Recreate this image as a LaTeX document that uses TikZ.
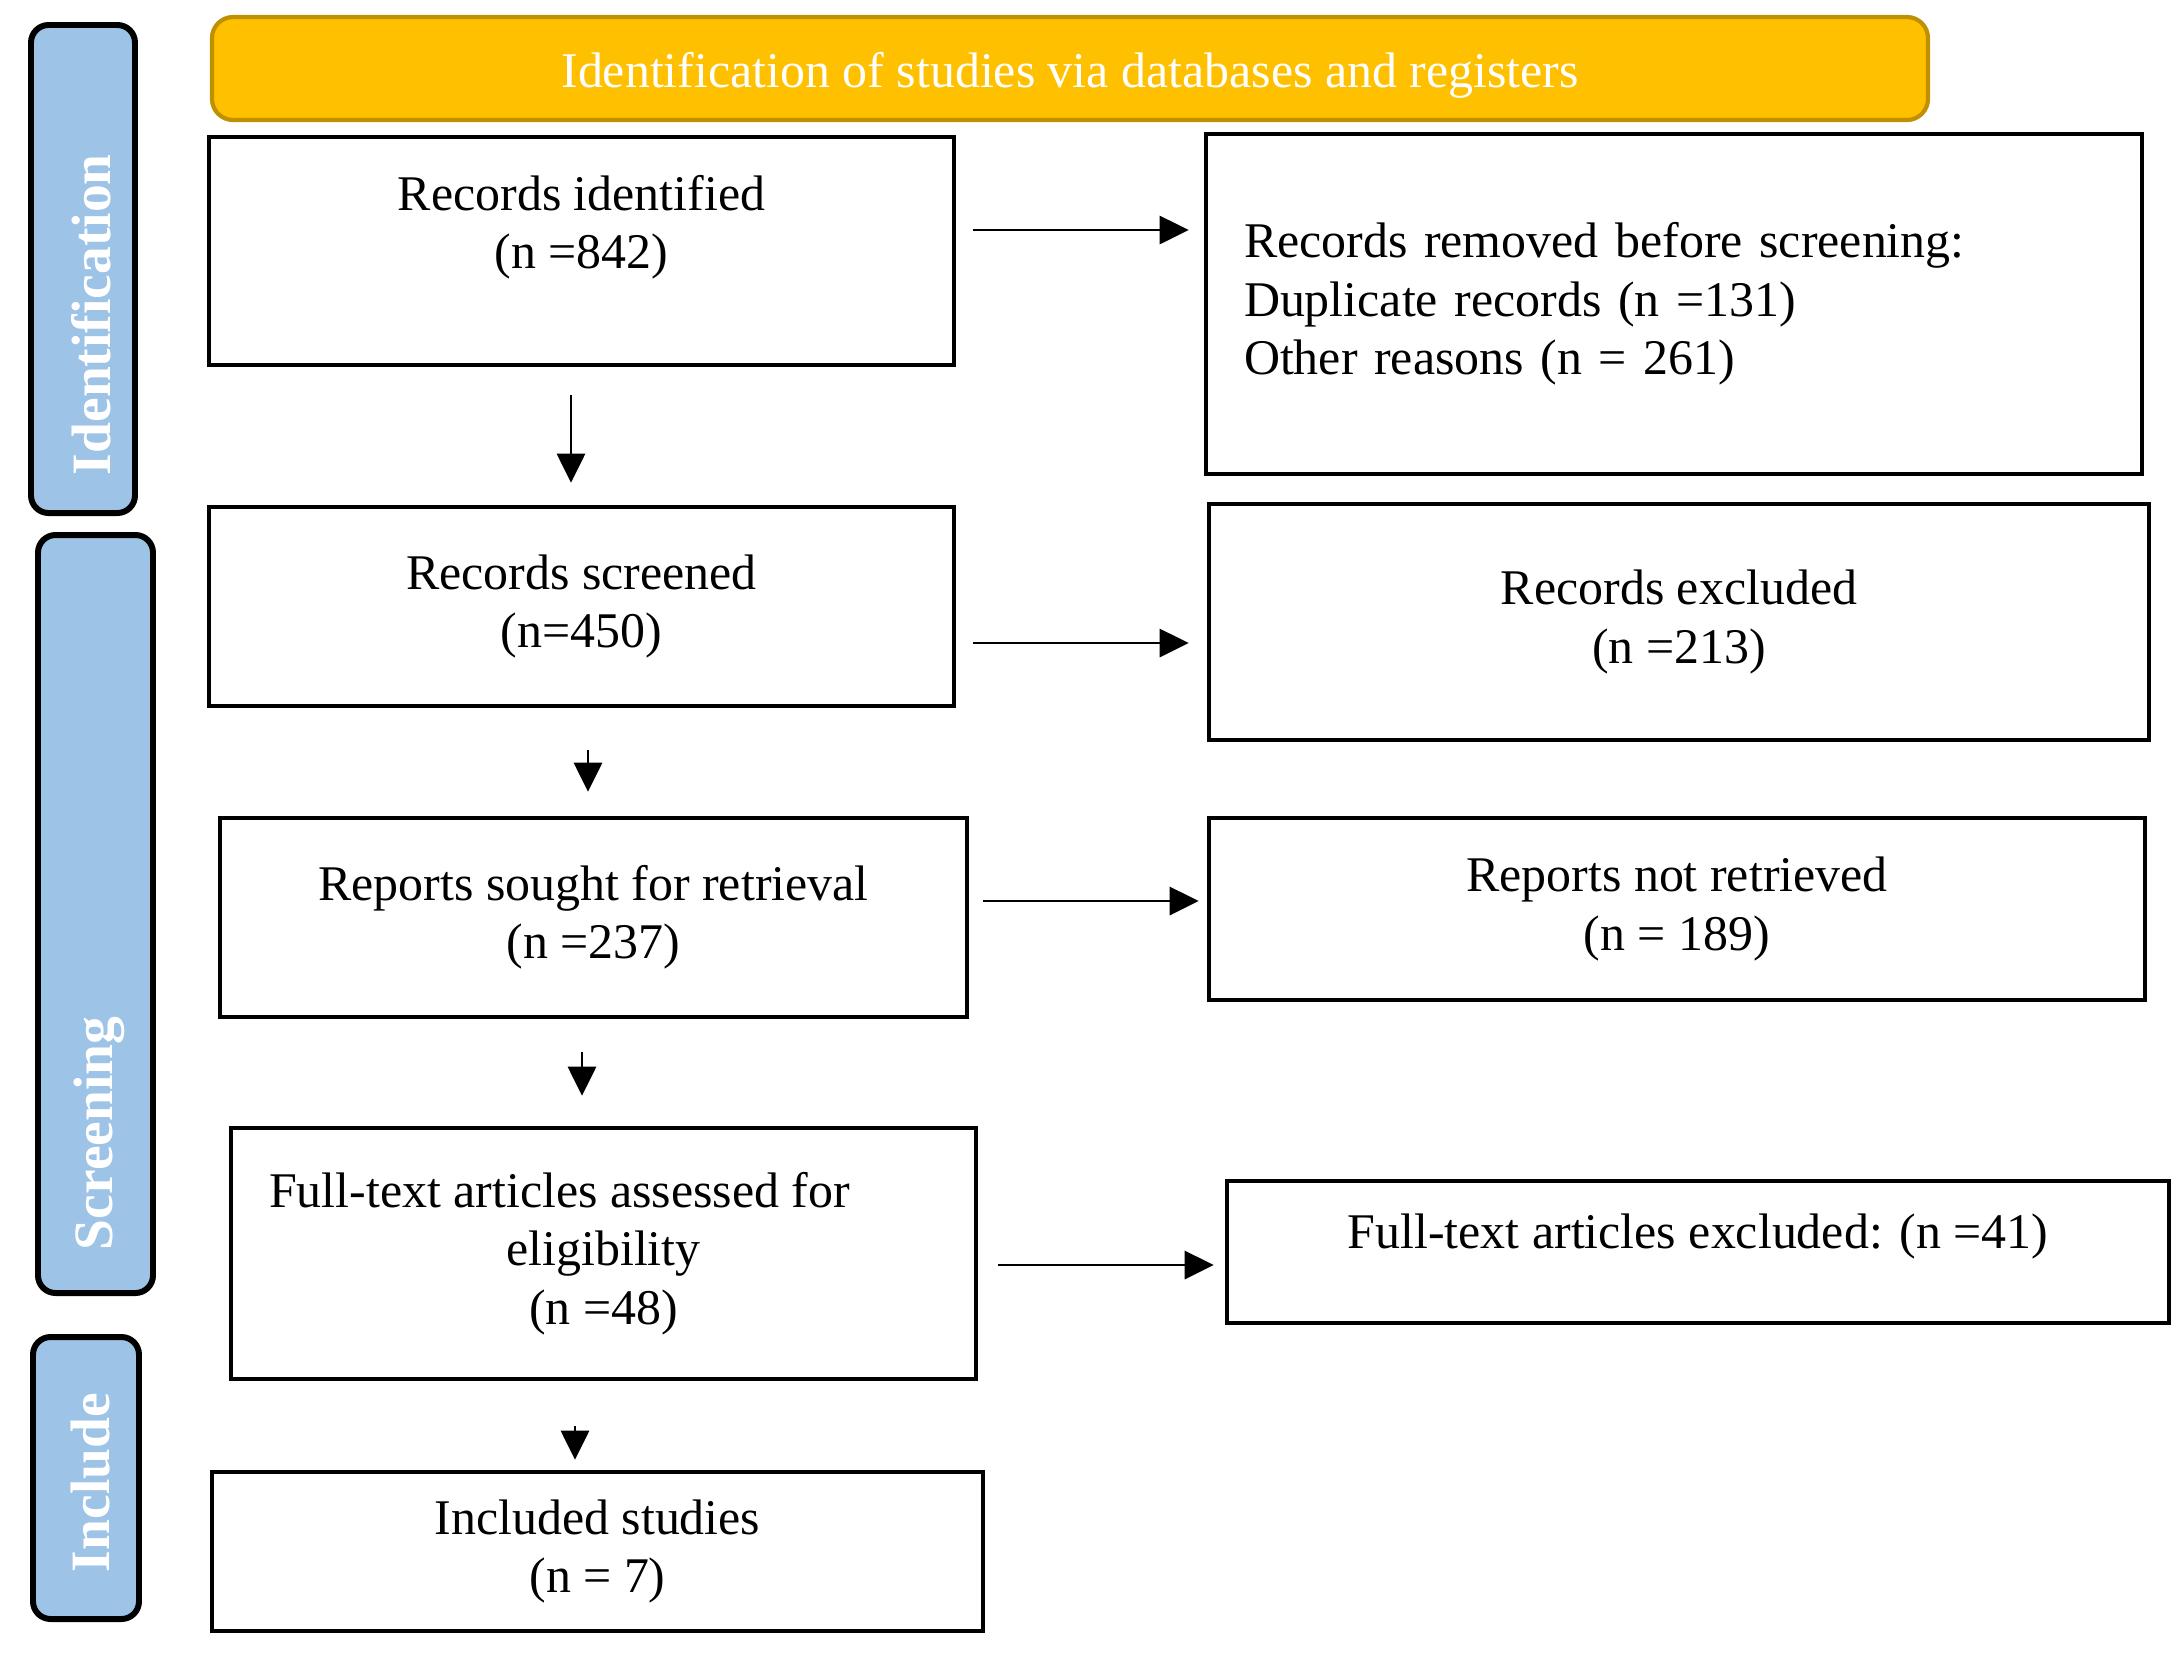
\documentclass[tikz,border=0pt]{standalone}
\usepackage{fontspec}
\setmainfont{Liberation Serif}
\usetikzlibrary{arrows.meta, positioning}
\definecolor{cyellow}{HTML}{FFC000}
\definecolor{cgold}{HTML}{BF9000}
\definecolor{cblue}{HTML}{9DC3E6}
\tikzset{
  every picture/.style={font=\fontsize{14.2}{16.6}\selectfont, line width=1.1pt},
  box/.style={draw=black, line width=1.3pt, align=center},
  banner/.style={draw=cgold, fill=cyellow, rounded corners=6pt, line width=1.2pt, text=white},
  tab/.style={draw=black, fill=cblue, rounded corners=5pt, line width=1.7pt},
  tablabel/.style={rotate=90, anchor=west, inner sep=0pt, text=white, font=\fontsize{15.8}{19}\selectfont\bfseries},
  arrow/.style={-{Triangle[length=2.9mm, width=2.8mm]}, draw=black, line width=0.8pt},
}

\begin{document}
\begin{tikzpicture}
  \useasboundingbox (0,0) rectangle (21.84,-16.53);
  \node[banner, minimum width=17.16cm, minimum height=1.03cm, text height=14pt] (head) at (10.70,-0.685) {Identification of studies via databases and registers};
  % side tabs
  \node[tab, minimum width=1.04cm, minimum height=4.88cm] (tid) at (0.83,-2.69) {};
  \node[tab, minimum width=1.15cm, minimum height=7.58cm] (tscr) at (0.955,-9.14) {};
  \node[tab, minimum width=1.06cm, minimum height=2.82cm] (tinc) at (0.86,-14.78) {};
  \node[tablabel] (lid) at ([xshift=0.8mm, yshift=3.9mm]tid.south) {Identification};
  \node[tablabel] (lscr) at ([xshift=0.4mm, yshift=4.4mm]tscr.south) {Screening};
  \node[tablabel] (linc) at ([xshift=0.5mm, yshift=4.8mm]tinc.south) {Include};
  % main column
  \node[box, minimum width=7.45cm, minimum height=2.28cm] (ident) at (5.815,-2.51) {Records identified\\(n =842)\\\mbox{}};
  \node[box, minimum width=7.45cm, minimum height=1.99cm] (screen) at (5.815,-6.065) {Records screened\\(n=450)};
  \node[box, minimum width=7.47cm, minimum height=1.99cm] (sought) at (5.935,-9.175) {Reports sought for retrieval\\(n =237)};
  \node[box, minimum width=7.45cm, minimum height=2.51cm] (elig) at (6.035,-12.535) {Full-text articles assessed for\hspace*{0.88cm}\\eligibility\\(n =48)};
  \node[box, minimum width=7.71cm, minimum height=1.59cm] (incl) at (5.975,-15.515) {Included studies\\(n = 7)};
  % side column
  \node[box, align=left, text width=8.6cm, inner xsep=0.38cm, minimum height=3.4cm] (removed) at (16.74,-3.04) {Records removed before screening:\\Duplicate records (n =131)\\Other reasons (n = 261)};
  \node[box, minimum width=9.40cm, minimum height=2.36cm] (excl) at (16.79,-6.22) {Records excluded\\(n =213)};
  \node[box, minimum width=9.36cm, minimum height=1.82cm] (notret) at (16.77,-9.09) {Reports not retrieved\\(n = 189)};
  \node[box, minimum width=9.42cm, minimum height=1.42cm, text depth=12pt] (ftexcl) at (16.98,-12.52) {Full-text articles excluded: (n =41)};
  % arrows
  \draw[arrow, shorten <=1.7mm, shorten >=1.5mm] ([yshift=2.1mm]ident.east) -- ([yshift=2.1mm]ident.east -| removed.west);
  \draw[arrow, shorten <=1.7mm, shorten >=1.8mm] ([yshift=-3.65mm]screen.east) -- ([yshift=-3.65mm]screen.east -| excl.west);
  \draw[arrow, shorten <=1.4mm, shorten >=0.8mm] ([yshift=1.65mm]sought.east) -- ([yshift=1.65mm]sought.east -| notret.west);
  \draw[arrow, shorten <=2mm, shorten >=1.1mm] ([yshift=-1.15mm]elig.east) -- ([yshift=-1.15mm]elig.east -| ftexcl.west);
  \draw[arrow, shorten <=2.8mm, shorten >=2.2mm] ([xshift=-1.05mm]ident.south) -- ([xshift=-1.05mm]ident.south |- screen.north);
  \draw[arrow, shorten <=4.2mm, shorten >=2.4mm] ([xshift=0.65mm]screen.south) -- ([xshift=0.65mm]screen.south |- sought.north);
  \draw[arrow, shorten <=3.3mm, shorten >=3mm] ([xshift=-1.15mm]sought.south) -- ([xshift=-1.15mm]sought.south |- elig.north);
  \draw[arrow, shorten <=4.5mm, shorten >=1mm] ([xshift=-2.85mm]elig.south) -- ([xshift=-2.85mm]elig.south |- incl.north);
\end{tikzpicture}
\end{document}
